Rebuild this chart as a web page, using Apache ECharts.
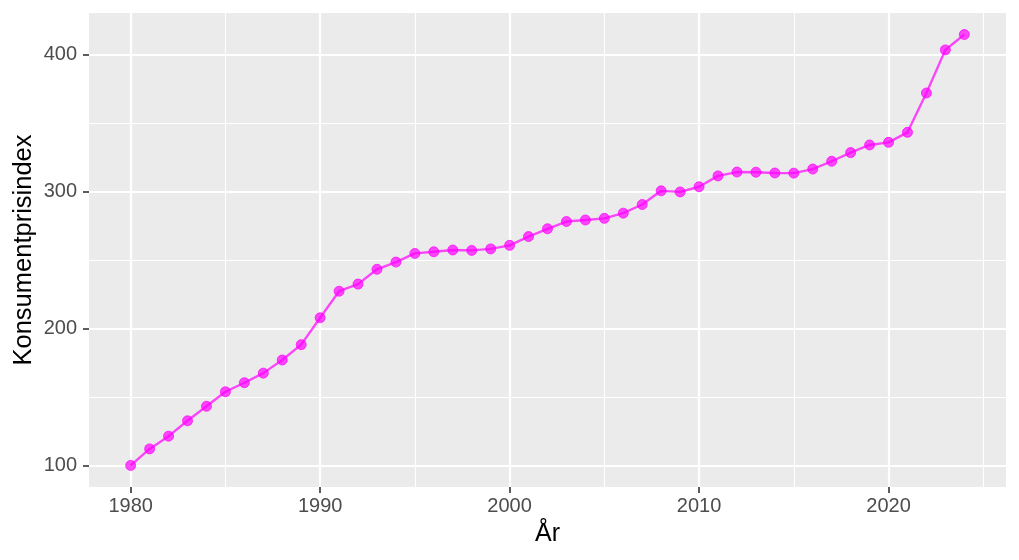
<!DOCTYPE html>
<html>
<head>
<meta charset="utf-8">
<script src="https://cdn.jsdelivr.net/npm/echarts@6/dist/echarts.min.js"></script>
<style>
html,body{margin:0;padding:0;background:#fff;}
#c{width:1019px;height:560px;}
</style>
</head>
<body>
<div id="c"></div>
<script>
const years = [1980,1981,1982,1983,1984,1985,1986,1987,1988,1989,1990,1991,1992,1993,1994,1995,1996,1997,1998,1999,2000,2001,2002,2003,2004,2005,2006,2007,2008,2009,2010,2011,2012,2013,2014,2015,2016,2017,2018,2019,2020,2021,2022,2023,2024];
const cpi = [100,112.1,121.4,132.6,143.2,153.8,160.4,167.4,177.0,188.2,207.8,227.2,232.4,243.2,248.5,254.8,256.0,257.3,257.0,258.1,260.7,267.1,272.8,278.1,279.2,280.4,284.2,290.5,300.5,299.7,303.5,311.4,314.2,314.1,313.5,313.4,316.4,322.1,328.4,334.0,335.9,343.2,371.9,403.4,414.6];
const xTicks = [1980,1990,2000,2010,2020];
const xMinor = [1985,1995,2005,2015,2025];
const yTicks = [100,200,300,400];
const yMinor = [150,250,350];
const xTitle = 'År';
const yTitle = 'Konsumentprisindex';

const xMin = 1977.8, xMax = 2026.2;
const yMin = 84.27, yMax = 430.33;
const font = '"Liberation Sans", Arial, sans-serif';

const chart = echarts.init(document.getElementById('c'));
chart.setOption({
  backgroundColor: '#ffffff',
  animation: false,
  grid: {
    left: 89, right: 13, top: 13, bottom: 73,
    show: true, backgroundColor: '#EBEBEB', borderWidth: 0,
    containLabel: false, outerBoundsMode: 'none'
  },
  xAxis: [{
    type: 'value', min: xMin, max: xMax,
    name: xTitle, nameLocation: 'middle', nameGap: 35, nameMoveOverlap: false,
    nameTextStyle: {fontFamily: font, fontSize: 25, color: '#000'},
    axisLine: {show: false},
    axisTick: {show: true, length: 6, lineStyle: {color: '#333333', width: 1.6}, customValues: xTicks},
    axisLabel: {customValues: xTicks, fontFamily: font, fontSize: 20, color: '#4D4D4D', margin: 9, formatter: v => String(v)},
    splitLine: {show: true, lineStyle: {color: '#ffffff', width: 2.2}}
  }, {
    type: 'value', min: xMin, max: xMax,
    axisLine: {show: false}, axisTick: {show: false, customValues: xMinor},
    axisLabel: {show: false, customValues: xMinor},
    splitLine: {show: true, lineStyle: {color: '#ffffff', width: 1.1}}
  }],
  yAxis: [{
    type: 'value', min: yMin, max: yMax,
    name: yTitle, nameLocation: 'middle', nameGap: 52, nameRotate: 90, nameMoveOverlap: false,
    nameTextStyle: {fontFamily: font, fontSize: 25.5, color: '#000'},
    axisLine: {show: false},
    axisTick: {show: true, length: 6, lineStyle: {color: '#333333', width: 1.6}, customValues: yTicks},
    axisLabel: {customValues: yTicks, fontFamily: font, fontSize: 20, color: '#4D4D4D', margin: 12},
    splitLine: {show: true, lineStyle: {color: '#ffffff', width: 2.2}}
  }, {
    type: 'value', min: yMin, max: yMax,
    axisLine: {show: false}, axisTick: {show: false, customValues: yMinor},
    axisLabel: {show: false, customValues: yMinor},
    splitLine: {show: true, lineStyle: {color: '#ffffff', width: 1.1}}
  }],
  series: [{
    type: 'line',
    xAxisIndex: 0, yAxisIndex: 0,
    data: years.map((y, i) => [y, cpi[i]]),
    symbol: 'circle', symbolSize: 10,
    lineStyle: {color: 'rgba(255,0,255,0.7)', width: 2.4},
    itemStyle: {color: 'rgba(255,0,255,0.7)', borderColor: 'rgba(255,0,255,0.7)', borderWidth: 1},
    emphasis: {disabled: true}
  }]
});
</script>
</body>
</html>
